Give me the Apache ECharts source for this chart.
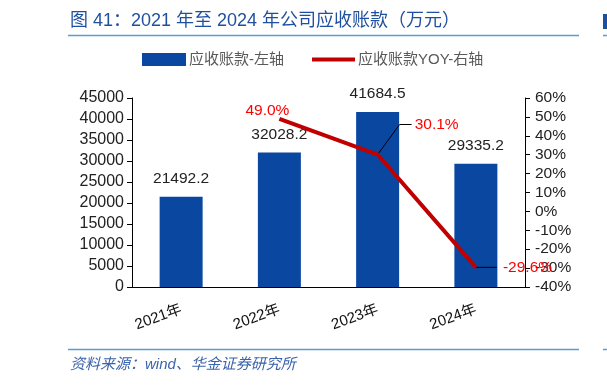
<!DOCTYPE html>
<html>
<head>
<meta charset="utf-8">
<script src="https://cdn.jsdelivr.net/npm/echarts@6/dist/echarts.min.js"></script>
<style>html,body{margin:0;padding:0;background:#fff;}#c{width:607px;height:386px;}</style>
</head>
<body>
<div id="c"></div>
<script>
var categories = ['2021年', '2022年', '2023年', '2024年'];
var receivables = [21492.2, 32028.2, 41684.5, 29335.2];
var yoy = [null, 49.0, 30.1, -29.6];
var leftTicks = {min: 0, max: 45000, interval: 5000};
var rightTicks = {min: -40, max: 60, interval: 10};

var chart = echarts.init(document.getElementById('c'));
var font = '"Liberation Sans", Arial, "Noto Sans CJK SC", sans-serif';
var cjk = '"Liberation Sans", "Noto Sans CJK SC", sans-serif';

var yoyData = yoy.map(function (v, i) {
  if (v === null) return null;
  var lab;
  if (i === 1) lab = {position: 'inside', offset: [-12, -8]};
  else if (i === 2) lab = {position: 'right', distance: 37, offset: [0, -30]};
  else lab = {position: 'right', distance: 27};
  return {value: v, label: lab};
});

chart.setOption({
  animation: false,
  textStyle: {fontFamily: font},
  graphic: [
    {type: 'text', left: 70, top: 12, style: {text: '图 41：2021 年至 2024 年公司应收账款（万元）', font: '18px ' + cjk, fill: '#1f4f9f'}},
    {type: 'line', shape: {x1: 68, y1: 35.5, x2: 579, y2: 35.5}, style: {stroke: '#5b9bd5', lineWidth: 1.5}},
    {type: 'line', shape: {x1: 603, y1: 35.5, x2: 607, y2: 35.5}, style: {stroke: '#5b9bd5', lineWidth: 1.5}},
    {type: 'rect', shape: {x: 603, y: 14, width: 4, height: 15}, style: {fill: '#1f4f9f'}},
    {type: 'line', shape: {x1: 68, y1: 349.5, x2: 579, y2: 349.5}, style: {stroke: '#5b9bd5', lineWidth: 1.5}},
    {type: 'line', shape: {x1: 603, y1: 349.5, x2: 607, y2: 349.5}, style: {stroke: '#5b9bd5', lineWidth: 1.5}},
    {type: 'text', left: 70, top: 357, style: {text: '资料来源：wind、华金证券研究所', font: 'italic 15px ' + cjk, fill: '#3b63ad'}}
  ],
  legend: [
    {data: ['应收账款-左轴'], left: 142, top: 52, padding: 0, itemWidth: 44, itemHeight: 13, icon: 'rect',
     textStyle: {fontSize: 15, color: '#595959', fontFamily: cjk, padding: [0, 0, 0, -2]}},
    {data: ['应收账款YOY-右轴'], left: 312, top: 52, padding: 0, itemWidth: 43, itemHeight: 4, icon: 'rect',
     textStyle: {fontSize: 15, color: '#595959', fontFamily: cjk, padding: [0, 0, 0, -2]}}
  ],
  grid: {left: 132, right: 82, top: 98, bottom: 99},
  xAxis: {type: 'category', data: categories,
     axisLine: {lineStyle: {color: '#000', width: 1}},
     axisTick: {inside: true, length: 5, lineStyle: {color: '#000'}},
     axisLabel: {rotate: 20, margin: 22, fontSize: 15, color: '#111', fontFamily: cjk}},
  yAxis: [
    {type: 'value', min: leftTicks.min, max: leftTicks.max, interval: leftTicks.interval,
     axisLine: {show: true, lineStyle: {color: '#000'}},
     axisTick: {show: true, length: 5, lineStyle: {color: '#000'}},
     axisLabel: {fontSize: 16, color: '#222', margin: 8, formatter: function (v) { return String(v); }},
     splitLine: {show: false}},
    {type: 'value', position: 'right', min: rightTicks.min, max: rightTicks.max, interval: rightTicks.interval,
     axisLine: {show: true, lineStyle: {color: '#000'}},
     axisTick: {show: true, length: 5, lineStyle: {color: '#000'}},
     axisLabel: {fontSize: 15.5, color: '#222', margin: 10, formatter: '{value}%'},
     splitLine: {show: false}}
  ],
  series: [
    {name: '应收账款-左轴', type: 'bar', data: receivables, yAxisIndex: 0, z: 2,
     barWidth: 43, itemStyle: {color: '#0a47a0'},
     label: {show: true, position: 'top', distance: 10, fontSize: 15.5, color: '#222',
             formatter: function (p) { return p.value.toFixed(1); }}},
    {type: 'custom', yAxisIndex: 1, silent: true, z: 3,
     data: [[2, yoy[2]], [3, yoy[3]]],
     renderItem: function (params, api) {
       var pt = api.coord([api.value(0), api.value(1)]);
       var pts = params.dataIndex === 0
         ? [pt, [pt[0] + 22, pt[1] - 30], [pt[0] + 34, pt[1] - 30]]
         : [pt, [pt[0] + 21, pt[1]]];
       return {type: 'polyline', shape: {points: pts}, style: {stroke: '#000', lineWidth: 1, fill: null}};
     }},
    {name: '应收账款YOY-右轴', type: 'line', data: yoyData, yAxisIndex: 1, z: 4,
     color: '#c00000', symbol: 'circle', symbolSize: 0.1, showSymbol: true,
     itemStyle: {color: '#c00000'},
     lineStyle: {color: '#c00000', width: 4},
     label: {show: true, fontSize: 15.5, color: '#ff0000',
             formatter: function (p) { return p.value.toFixed(1) + '%'; }}}
  ]
});
</script>
</body>
</html>
